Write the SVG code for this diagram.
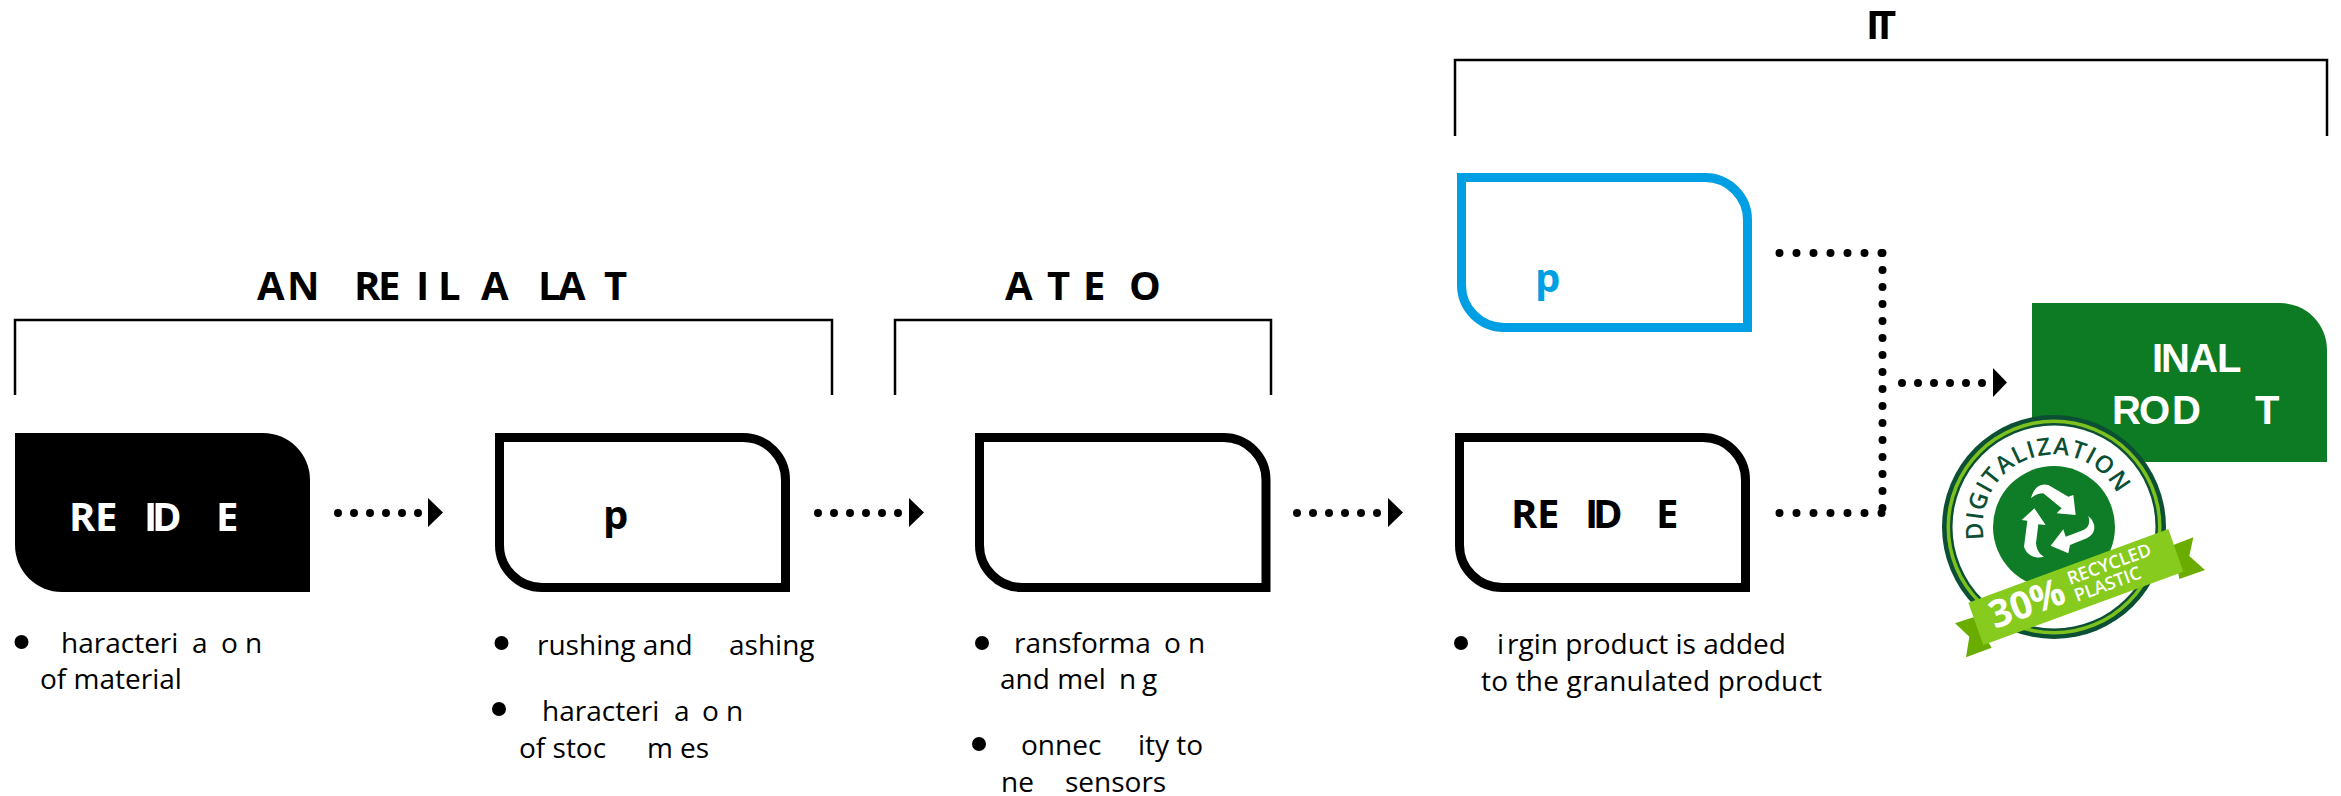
<svg xmlns="http://www.w3.org/2000/svg" width="2341" height="796" viewBox="0 0 2341 796">
<defs>
<style>
text{font-family:"Open Sans","Liberation Sans",sans-serif}
.h{font-size:40px;font-weight:700;fill:#000}
.t{font-size:40px;font-weight:700;fill:#000}
.w{font-size:40px;font-weight:700;fill:#fff}
.b{font-size:28px;font-weight:400;fill:#000}
.box{fill:#fff;stroke:#000;stroke-width:9}
.br{fill:none;stroke:#000;stroke-width:2.5}
.dot{fill:none;stroke:#000;stroke-width:8;stroke-linecap:round;stroke-dasharray:0 16}
.dot17{fill:none;stroke:#000;stroke-width:8;stroke-linecap:round;stroke-dasharray:0 17}
</style>
<path id="digiArc" d="M1984.100 539.300A71 71 0 0 1 2120 500"/>
</defs>
<rect width="2341" height="796" fill="#fff"/>
<g id="brackets">
<path class="br" d="M15 395V320H832V395"/>
<path class="br" d="M895 395V320H1271V395"/>
<path class="br" d="M1455 136V60H2327V136"/>
</g>
<g id="titles">
<text class="h" y="300" x="257 287 330 354 378 416 438 460 481 520 538 558 604">AN REIL A LAT</text>
<text class="h" y="300" x="1005 1030 1047 1070 1083 1110 1129">A T E O</text>
<text class="h" y="39" x="1866 1873">IT</text>
</g>
<g id="connectors">
<path class="dot" d="M338 513H420"/>
<path d="M428 498L443 512.500L428 527Z"/>
<path class="dot" d="M818 513H900"/>
<path d="M909 498L924 512.500L909 527Z"/>
<path class="dot" d="M1297 513H1379"/>
<path d="M1388 498L1403 512.500L1388 527Z"/>
<path class="dot17" d="M1779.500 253H1883"/>
<path class="dot17" d="M1882.500 253V514"/>
<path class="dot17" d="M1779.500 513H1883"/>
<path class="dot" d="M1902 383H1984"/>
<path d="M1993 368L2007 382.500L1993 397Z"/>
</g>
<g id="node-residue-black">
<path fill="#000" d="M15 433H263A47 47 0 0 1 310 480V592H62A47 47 0 0 1 15 545Z"/>
<text class="w" y="531" x="69 95 120 144 152 190 216">RE ID E</text>
<circle cx="21.500" cy="642" r="7"/>
<text class="b" y="653"><tspan x="61">haracteri</tspan><tspan x="192">a</tspan><tspan x="221">o</tspan><tspan x="245">n</tspan></text>
<text class="b" x="40" y="689">of material</text>
</g>
<g id="node-process-p">
<path class="box" d="M499.500 437.500H743A42.500 42.500 0 0 1 785.500 480V587.500H542A42.500 42.500 0 0 1 499.500 545Z"/>
<text class="t" x="603" y="529">p</text>
<circle cx="501.500" cy="643" r="7"/>
<text class="b" y="655"><tspan x="537">rushing and</tspan><tspan x="729">ashing</tspan></text>
<circle cx="499" cy="709" r="7"/>
<text class="b" y="721"><tspan x="542">haracteri</tspan><tspan x="674">a</tspan><tspan x="702">o</tspan><tspan x="726">n</tspan></text>
<text class="b" y="758"><tspan x="519">of stoc</tspan><tspan x="647">m</tspan><tspan x="680">es</tspan></text>
</g>
<g id="node-transform">
<path class="box" d="M979.500 437.500H1223.500A42.500 42.500 0 0 1 1266 480V587.500H1022A42.500 42.500 0 0 1 979.500 545Z"/>
<circle cx="982" cy="643" r="7"/>
<text class="b" y="653"><tspan x="1014">ransforma</tspan><tspan x="1164">o</tspan><tspan x="1188">n</tspan></text>
<text class="b" y="689"><tspan x="1000">and mel</tspan><tspan x="1119">n</tspan><tspan x="1142">g</tspan></text>
<circle cx="979" cy="744" r="7"/>
<text class="b" y="755"><tspan x="1021">onnec</tspan><tspan x="1138">ity to</tspan></text>
<text class="b" y="792"><tspan x="1001">ne</tspan><tspan x="1065">sensors</tspan></text>
</g>
<g id="node-residue">
<path class="box" d="M1459.500 437.500H1703A42.500 42.500 0 0 1 1745.500 480V587.500H1502A42.500 42.500 0 0 1 1459.500 545Z"/>
<text class="t" y="528" x="1511 1537 1561 1585 1593 1631 1656">RE ID E</text>
<circle cx="1461" cy="643" r="7"/>
<text class="b" y="654"><tspan x="1497">i</tspan><tspan x="1507">rgin product is added</tspan></text>
<text class="b" x="1481" y="691" textLength="341">to the granulated product</text>
</g>
<g id="node-virgin-blue">
<path class="box" style="stroke:#009fe3" d="M1461.500 177.500H1705A42.500 42.500 0 0 1 1747.500 220V327.500H1504A42.500 42.500 0 0 1 1461.500 285Z"/>
<text class="t" style="fill:#009fe3" x="1535" y="292">p</text>
</g>
<g id="node-final">
<path fill="#0d7a24" d="M2032 303H2280A47 47 0 0 1 2327 350V462H2032Z"/>
<text class="w" y="372" style="font-family:'Liberation Sans',sans-serif" x="2152 2161 2189 2217">INAL</text>
<text class="w" y="424" style="font-family:'Liberation Sans',sans-serif" x="2112 2139 2172 2200 2255">ROD T</text>
</g>
<g id="badge">
<circle cx="2054" cy="527" r="112" fill="#0b4f34"/>
<circle cx="2054" cy="527" r="107.500" fill="#7cc11d"/>
<circle cx="2054" cy="527" r="104" fill="#0b4f34"/>
<circle cx="2054" cy="527" r="101.500" fill="#fff"/>
<circle cx="2054" cy="527" r="61" fill="#0f7d27"/>
<text style="font-size:24px;font-weight:600;fill:#0b4f34;letter-spacing:1.200px"><textPath href="#digiArc">DIGITALIZATION</textPath></text>
<g transform="translate(1900 280) scale(.33333)" fill="#fff">
<path d="M393 655C400 625 420 608 445 615L505 650L520 645L527 705L470 700L485 685L430 640Q410 640 393 655Z"/>
<path d="M565 708C590 730 590 760 560 775L510 795L505 820L452 797L490 748L497 770L545 752C565 745 572 730 565 708Z"/>
<path d="M403 685L437 735L415 733L408 790C410 810 420 825 432 830C405 838 380 825 372 800L382 722L365 720Z"/>
<path fill="#6aad00" d="M820 795L880 772L868 828L915 870L838 897Z"/>
<path fill="#6aad00" d="M165 1030L220 1012L275 1103L198 1132L208 1070Z"/>
<path fill="#86cb1e" d="M205 968L805 747L850 875L250 1095Z"/>
</g>
<text transform="translate(1995 629) rotate(-20.200)" style="font-size:38px;font-weight:700;fill:#fff">30%</text>
<text transform="translate(2070 585) rotate(-20.200)" style="font-size:18px;font-weight:600;fill:#fff">RECYCLED</text>
<text transform="translate(2077 602) rotate(-20.200)" style="font-size:18px;font-weight:600;fill:#fff">PLASTIC</text>
</g>
</svg>
